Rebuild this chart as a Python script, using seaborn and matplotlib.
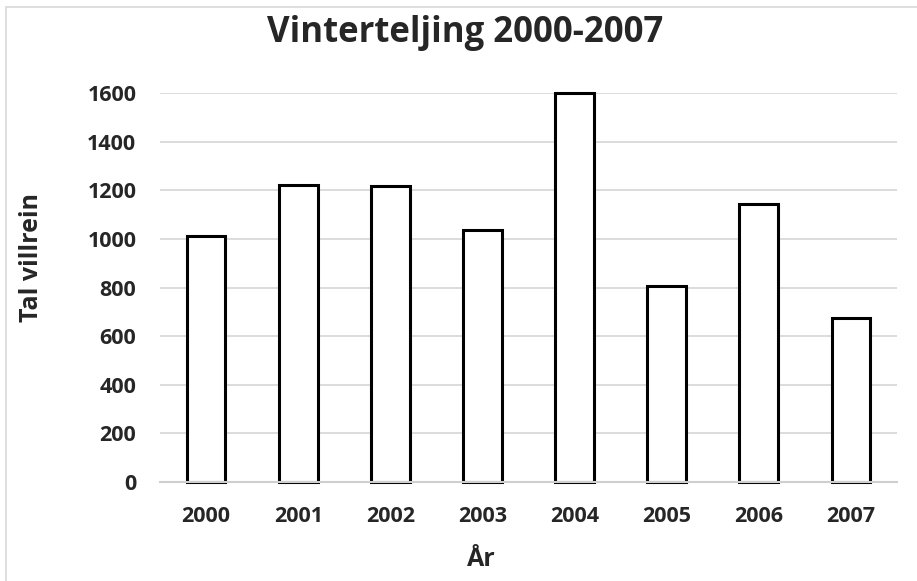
import matplotlib

matplotlib.use('Agg')
import matplotlib.pyplot as plt
import seaborn as sns
import pandas as pd
from matplotlib.patches import Rectangle

# 数据
years = ['2000', '2001', '2002', '2003', '2004', '2005', '2006', '2007']
counts = [1010, 1220, 1217, 1036, 1598, 806, 1145, 674]
y_ticks = [0, 200, 400, 600, 800, 1000, 1200, 1400, 1600]

title = 'Vinterteljing 2000-2007'
x_label = 'År'
y_label = 'Tal villrein'

df = pd.DataFrame({'year': years, 'count': counts})

sns.set_style('white')
plt.rcParams['font.family'] = ['Open Sans', 'DejaVu Sans']
plt.rcParams['font.weight'] = 'bold'

W, H = 917, 581
fig = plt.figure(figsize=(W / 100, H / 100), dpi=100)
ax = fig.add_axes([160 / W, 1 - 482 / H, 737 / W, 389 / H])

sns.barplot(data=df, x='year', y='count', color='white', edgecolor='black',
            linewidth=2.2, width=0.42, ax=ax, zorder=3)

ax.set_ylim(0, 1600)
ax.set_yticks(y_ticks)
ax.yaxis.grid(True, color='#d9d9d9', linewidth=1.3, zorder=0)
ax.set_axisbelow(True)
for s in ['top', 'right', 'left']:
    ax.spines[s].set_visible(False)
ax.spines['bottom'].set_color('#cfcfcf')
ax.spines['bottom'].set_linewidth(1.5)
ax.spines['bottom'].set_zorder(4)
ax.tick_params(axis='y', length=0, labelsize=15.5, pad=17)
ax.tick_params(axis='x', length=0, labelsize=15.5, pad=17)
for lab in ax.get_xticklabels() + ax.get_yticklabels():
    lab.set_fontweight('bold')
for p in ax.patches:
    p.set_clip_on(False)

ax.set_xlabel('')
ax.set_ylabel('')
fig.text(481 / W, 1 - 560 / H, x_label, ha='center', va='center', fontsize=18, fontweight='bold')
fig.text(31 / W, 1 - 257 / H, y_label, ha='center', va='center', rotation=90,
         fontsize=18, fontweight='bold')
fig.text(465 / W, 1 - 33 / H, title, ha='center', va='center', fontsize=25, fontweight='bold')

# 外框
fig.patches.append(Rectangle((6 / W, -0.05), 1.1, 1 - 7 / H + 0.05, transform=fig.transFigure,
                             fill=False, edgecolor='#d9d9d9', linewidth=1.2))

plt.savefig('out.png', dpi=100)
plt.close()
